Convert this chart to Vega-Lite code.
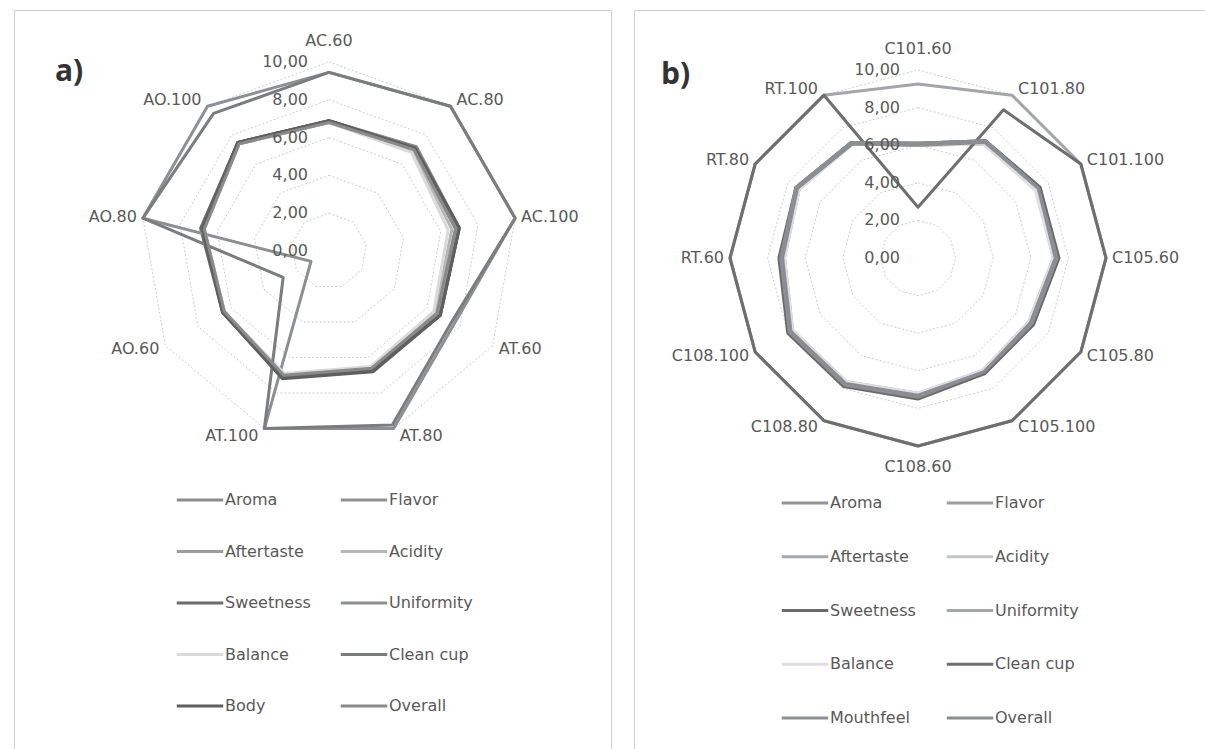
{
  "$schema": "https://vega.github.io/schema/vega-lite/v6.json",
  "background": "white",
  "padding": {"left": 13, "top": 9, "right": 0, "bottom": 0},
  "spacing": 21,
  "config": {"view": {"stroke": "#cfcfcf", "strokeWidth": 1}, "text": {"font": "DejaVu Sans"}},
  "resolve": {"scale": {"x": "independent", "y": "independent", "color": "independent"}, "legend": {"color": "independent"}},
  "datasets": {
    "catA": [
      {"c": "AC.60", "i": 0, "r": [2, 4, 6, 8, 10]}, {"c": "AC.80", "i": 1, "r": [2, 4, 6, 8, 10]}, {"c": "AC.100", "i": 2, "r": [2, 4, 6, 8, 10]},
      {"c": "AT.60", "i": 3, "r": [2, 4, 6, 8, 10]}, {"c": "AT.80", "i": 4, "r": [2, 4, 6, 8, 10]}, {"c": "AT.100", "i": 5, "r": [2, 4, 6, 8, 10]},
      {"c": "AO.60", "i": 6, "r": [2, 4, 6, 8, 10]}, {"c": "AO.80", "i": 7, "r": [2, 4, 6, 8, 10]}, {"c": "AO.100", "i": 8, "r": [2, 4, 6, 8, 10]}
    ],
    "catB": [
      {"c": "C101.60", "i": 0, "r": [2, 4, 6, 8, 10]}, {"c": "C101.80", "i": 1, "r": [2, 4, 6, 8, 10]}, {"c": "C101.100", "i": 2, "r": [2, 4, 6, 8, 10]},
      {"c": "C105.60", "i": 3, "r": [2, 4, 6, 8, 10]}, {"c": "C105.80", "i": 4, "r": [2, 4, 6, 8, 10]}, {"c": "C105.100", "i": 5, "r": [2, 4, 6, 8, 10]},
      {"c": "C108.60", "i": 6, "r": [2, 4, 6, 8, 10]}, {"c": "C108.80", "i": 7, "r": [2, 4, 6, 8, 10]}, {"c": "C108.100", "i": 8, "r": [2, 4, 6, 8, 10]},
      {"c": "RT.60", "i": 9, "r": [2, 4, 6, 8, 10]}, {"c": "RT.80", "i": 10, "r": [2, 4, 6, 8, 10]}, {"c": "RT.100", "i": 11, "r": [2, 4, 6, 8, 10]}
    ],
    "levels": [
      {"r": 0, "t": "0,00"}, {"r": 2, "t": "2,00"}, {"r": 4, "t": "4,00"}, {"r": 6, "t": "6,00"}, {"r": 8, "t": "8,00"}, {"r": 10, "t": "10,00"}
    ],
    "a": [
      {"s": "Aroma", "c": "AC.60", "i": 0, "v": 6.9}, {"s": "Aroma", "c": "AC.80", "i": 1, "v": 7.2}, {"s": "Aroma", "c": "AC.100", "i": 2, "v": 7.0}, {"s": "Aroma", "c": "AT.60", "i": 3, "v": 6.8}, {"s": "Aroma", "c": "AT.80", "i": 4, "v": 6.7}, {"s": "Aroma", "c": "AT.100", "i": 5, "v": 7.1}, {"s": "Aroma", "c": "AO.60", "i": 6, "v": 6.4}, {"s": "Aroma", "c": "AO.80", "i": 7, "v": 6.8}, {"s": "Aroma", "c": "AO.100", "i": 8, "v": 7.5},
      {"s": "Flavor", "c": "AC.60", "i": 0, "v": 6.9}, {"s": "Flavor", "c": "AC.80", "i": 1, "v": 7.1}, {"s": "Flavor", "c": "AC.100", "i": 2, "v": 6.9}, {"s": "Flavor", "c": "AT.60", "i": 3, "v": 6.7}, {"s": "Flavor", "c": "AT.80", "i": 4, "v": 6.6}, {"s": "Flavor", "c": "AT.100", "i": 5, "v": 7.1}, {"s": "Flavor", "c": "AO.60", "i": 6, "v": 6.5}, {"s": "Flavor", "c": "AO.80", "i": 7, "v": 6.8}, {"s": "Flavor", "c": "AO.100", "i": 8, "v": 7.4},
      {"s": "Aftertaste", "c": "AC.60", "i": 0, "v": 6.8}, {"s": "Aftertaste", "c": "AC.80", "i": 1, "v": 7.0}, {"s": "Aftertaste", "c": "AC.100", "i": 2, "v": 6.8}, {"s": "Aftertaste", "c": "AT.60", "i": 3, "v": 6.6}, {"s": "Aftertaste", "c": "AT.80", "i": 4, "v": 6.6}, {"s": "Aftertaste", "c": "AT.100", "i": 5, "v": 7.0}, {"s": "Aftertaste", "c": "AO.60", "i": 6, "v": 6.4}, {"s": "Aftertaste", "c": "AO.80", "i": 7, "v": 6.7}, {"s": "Aftertaste", "c": "AO.100", "i": 8, "v": 7.4},
      {"s": "Acidity", "c": "AC.60", "i": 0, "v": 6.9}, {"s": "Acidity", "c": "AC.80", "i": 1, "v": 6.9}, {"s": "Acidity", "c": "AC.100", "i": 2, "v": 6.6}, {"s": "Acidity", "c": "AT.60", "i": 3, "v": 6.5}, {"s": "Acidity", "c": "AT.80", "i": 4, "v": 6.6}, {"s": "Acidity", "c": "AT.100", "i": 5, "v": 7.0}, {"s": "Acidity", "c": "AO.60", "i": 6, "v": 6.5}, {"s": "Acidity", "c": "AO.80", "i": 7, "v": 6.8}, {"s": "Acidity", "c": "AO.100", "i": 8, "v": 7.5},
      {"s": "Sweetness", "c": "AC.60", "i": 0, "v": 6.9}, {"s": "Sweetness", "c": "AC.80", "i": 1, "v": 7.1}, {"s": "Sweetness", "c": "AC.100", "i": 2, "v": 7.0}, {"s": "Sweetness", "c": "AT.60", "i": 3, "v": 6.8}, {"s": "Sweetness", "c": "AT.80", "i": 4, "v": 6.7}, {"s": "Sweetness", "c": "AT.100", "i": 5, "v": 7.1}, {"s": "Sweetness", "c": "AO.60", "i": 6, "v": 6.5}, {"s": "Sweetness", "c": "AO.80", "i": 7, "v": 6.9}, {"s": "Sweetness", "c": "AO.100", "i": 8, "v": 7.5},
      {"s": "Uniformity", "c": "AC.60", "i": 0, "v": 9.45}, {"s": "Uniformity", "c": "AC.80", "i": 1, "v": 10}, {"s": "Uniformity", "c": "AC.100", "i": 2, "v": 10}, {"s": "Uniformity", "c": "AT.60", "i": 3, "v": 7.66}, {"s": "Uniformity", "c": "AT.80", "i": 4, "v": 10}, {"s": "Uniformity", "c": "AT.100", "i": 5, "v": 10}, {"s": "Uniformity", "c": "AO.60", "i": 6, "v": 1.1}, {"s": "Uniformity", "c": "AO.80", "i": 7, "v": 10}, {"s": "Uniformity", "c": "AO.100", "i": 8, "v": 10},
      {"s": "Balance", "c": "AC.60", "i": 0, "v": 6.8}, {"s": "Balance", "c": "AC.80", "i": 1, "v": 6.8}, {"s": "Balance", "c": "AC.100", "i": 2, "v": 6.4}, {"s": "Balance", "c": "AT.60", "i": 3, "v": 6.4}, {"s": "Balance", "c": "AT.80", "i": 4, "v": 6.5}, {"s": "Balance", "c": "AT.100", "i": 5, "v": 6.9}, {"s": "Balance", "c": "AO.60", "i": 6, "v": 6.4}, {"s": "Balance", "c": "AO.80", "i": 7, "v": 6.7}, {"s": "Balance", "c": "AO.100", "i": 8, "v": 7.4},
      {"s": "Clean cup", "c": "AC.60", "i": 0, "v": 9.45}, {"s": "Clean cup", "c": "AC.80", "i": 1, "v": 10}, {"s": "Clean cup", "c": "AC.100", "i": 2, "v": 10}, {"s": "Clean cup", "c": "AT.60", "i": 3, "v": 7.5}, {"s": "Clean cup", "c": "AT.80", "i": 4, "v": 9.8}, {"s": "Clean cup", "c": "AT.100", "i": 5, "v": 10}, {"s": "Clean cup", "c": "AO.60", "i": 6, "v": 2.8}, {"s": "Clean cup", "c": "AO.80", "i": 7, "v": 10}, {"s": "Clean cup", "c": "AO.100", "i": 8, "v": 9.5},
      {"s": "Body", "c": "AC.60", "i": 0, "v": 6.9}, {"s": "Body", "c": "AC.80", "i": 1, "v": 7.1}, {"s": "Body", "c": "AC.100", "i": 2, "v": 7.0}, {"s": "Body", "c": "AT.60", "i": 3, "v": 6.8}, {"s": "Body", "c": "AT.80", "i": 4, "v": 6.8}, {"s": "Body", "c": "AT.100", "i": 5, "v": 7.2}, {"s": "Body", "c": "AO.60", "i": 6, "v": 6.5}, {"s": "Body", "c": "AO.80", "i": 7, "v": 6.8}, {"s": "Body", "c": "AO.100", "i": 8, "v": 7.5},
      {"s": "Overall", "c": "AC.60", "i": 0, "v": 6.8}, {"s": "Overall", "c": "AC.80", "i": 1, "v": 7.0}, {"s": "Overall", "c": "AC.100", "i": 2, "v": 6.8}, {"s": "Overall", "c": "AT.60", "i": 3, "v": 6.6}, {"s": "Overall", "c": "AT.80", "i": 4, "v": 6.6}, {"s": "Overall", "c": "AT.100", "i": 5, "v": 7.0}, {"s": "Overall", "c": "AO.60", "i": 6, "v": 6.4}, {"s": "Overall", "c": "AO.80", "i": 7, "v": 6.7}, {"s": "Overall", "c": "AO.100", "i": 8, "v": 7.4}
    ],
    "b": [
      {"s": "Aroma", "c": "C101.60", "i": 0, "v": 6.1}, {"s": "Aroma", "c": "C101.80", "i": 1, "v": 7.2}, {"s": "Aroma", "c": "C101.100", "i": 2, "v": 7.5}, {"s": "Aroma", "c": "C105.60", "i": 3, "v": 7.4}, {"s": "Aroma", "c": "C105.80", "i": 4, "v": 7.0}, {"s": "Aroma", "c": "C105.100", "i": 5, "v": 7.1}, {"s": "Aroma", "c": "C108.60", "i": 6, "v": 7.4}, {"s": "Aroma", "c": "C108.80", "i": 7, "v": 7.8}, {"s": "Aroma", "c": "C108.100", "i": 8, "v": 7.9}, {"s": "Aroma", "c": "RT.60", "i": 9, "v": 7.3}, {"s": "Aroma", "c": "RT.80", "i": 10, "v": 7.5}, {"s": "Aroma", "c": "RT.100", "i": 11, "v": 7.1},
      {"s": "Flavor", "c": "C101.60", "i": 0, "v": 6.0}, {"s": "Flavor", "c": "C101.80", "i": 1, "v": 7.1}, {"s": "Flavor", "c": "C101.100", "i": 2, "v": 7.4}, {"s": "Flavor", "c": "C105.60", "i": 3, "v": 7.3}, {"s": "Flavor", "c": "C105.80", "i": 4, "v": 6.9}, {"s": "Flavor", "c": "C105.100", "i": 5, "v": 7.0}, {"s": "Flavor", "c": "C108.60", "i": 6, "v": 7.3}, {"s": "Flavor", "c": "C108.80", "i": 7, "v": 7.7}, {"s": "Flavor", "c": "C108.100", "i": 8, "v": 7.8}, {"s": "Flavor", "c": "RT.60", "i": 9, "v": 7.2}, {"s": "Flavor", "c": "RT.80", "i": 10, "v": 7.4}, {"s": "Flavor", "c": "RT.100", "i": 11, "v": 7.0},
      {"s": "Aftertaste", "c": "C101.60", "i": 0, "v": 6.0}, {"s": "Aftertaste", "c": "C101.80", "i": 1, "v": 7.0}, {"s": "Aftertaste", "c": "C101.100", "i": 2, "v": 7.3}, {"s": "Aftertaste", "c": "C105.60", "i": 3, "v": 7.2}, {"s": "Aftertaste", "c": "C105.80", "i": 4, "v": 6.8}, {"s": "Aftertaste", "c": "C105.100", "i": 5, "v": 6.9}, {"s": "Aftertaste", "c": "C108.60", "i": 6, "v": 7.2}, {"s": "Aftertaste", "c": "C108.80", "i": 7, "v": 7.6}, {"s": "Aftertaste", "c": "C108.100", "i": 8, "v": 7.7}, {"s": "Aftertaste", "c": "RT.60", "i": 9, "v": 7.1}, {"s": "Aftertaste", "c": "RT.80", "i": 10, "v": 7.3}, {"s": "Aftertaste", "c": "RT.100", "i": 11, "v": 7.0},
      {"s": "Acidity", "c": "C101.60", "i": 0, "v": 6.1}, {"s": "Acidity", "c": "C101.80", "i": 1, "v": 7.1}, {"s": "Acidity", "c": "C101.100", "i": 2, "v": 7.3}, {"s": "Acidity", "c": "C105.60", "i": 3, "v": 7.3}, {"s": "Acidity", "c": "C105.80", "i": 4, "v": 6.9}, {"s": "Acidity", "c": "C105.100", "i": 5, "v": 7.0}, {"s": "Acidity", "c": "C108.60", "i": 6, "v": 7.3}, {"s": "Acidity", "c": "C108.80", "i": 7, "v": 7.7}, {"s": "Acidity", "c": "C108.100", "i": 8, "v": 7.8}, {"s": "Acidity", "c": "RT.60", "i": 9, "v": 7.3}, {"s": "Acidity", "c": "RT.80", "i": 10, "v": 7.4}, {"s": "Acidity", "c": "RT.100", "i": 11, "v": 7.1},
      {"s": "Sweetness", "c": "C101.60", "i": 0, "v": 6.1}, {"s": "Sweetness", "c": "C101.80", "i": 1, "v": 7.2}, {"s": "Sweetness", "c": "C101.100", "i": 2, "v": 7.5}, {"s": "Sweetness", "c": "C105.60", "i": 3, "v": 7.5}, {"s": "Sweetness", "c": "C105.80", "i": 4, "v": 7.1}, {"s": "Sweetness", "c": "C105.100", "i": 5, "v": 7.1}, {"s": "Sweetness", "c": "C108.60", "i": 6, "v": 7.5}, {"s": "Sweetness", "c": "C108.80", "i": 7, "v": 7.9}, {"s": "Sweetness", "c": "C108.100", "i": 8, "v": 8.0}, {"s": "Sweetness", "c": "RT.60", "i": 9, "v": 7.4}, {"s": "Sweetness", "c": "RT.80", "i": 10, "v": 7.5}, {"s": "Sweetness", "c": "RT.100", "i": 11, "v": 7.1},
      {"s": "Uniformity", "c": "C101.60", "i": 0, "v": 9.26}, {"s": "Uniformity", "c": "C101.80", "i": 1, "v": 10}, {"s": "Uniformity", "c": "C101.100", "i": 2, "v": 10}, {"s": "Uniformity", "c": "C105.60", "i": 3, "v": 10}, {"s": "Uniformity", "c": "C105.80", "i": 4, "v": 10}, {"s": "Uniformity", "c": "C105.100", "i": 5, "v": 10}, {"s": "Uniformity", "c": "C108.60", "i": 6, "v": 10}, {"s": "Uniformity", "c": "C108.80", "i": 7, "v": 10}, {"s": "Uniformity", "c": "C108.100", "i": 8, "v": 10}, {"s": "Uniformity", "c": "RT.60", "i": 9, "v": 10}, {"s": "Uniformity", "c": "RT.80", "i": 10, "v": 10}, {"s": "Uniformity", "c": "RT.100", "i": 11, "v": 10},
      {"s": "Balance", "c": "C101.60", "i": 0, "v": 6.0}, {"s": "Balance", "c": "C101.80", "i": 1, "v": 7.0}, {"s": "Balance", "c": "C101.100", "i": 2, "v": 7.2}, {"s": "Balance", "c": "C105.60", "i": 3, "v": 7.2}, {"s": "Balance", "c": "C105.80", "i": 4, "v": 6.8}, {"s": "Balance", "c": "C105.100", "i": 5, "v": 6.9}, {"s": "Balance", "c": "C108.60", "i": 6, "v": 7.2}, {"s": "Balance", "c": "C108.80", "i": 7, "v": 7.6}, {"s": "Balance", "c": "C108.100", "i": 8, "v": 7.7}, {"s": "Balance", "c": "RT.60", "i": 9, "v": 7.1}, {"s": "Balance", "c": "RT.80", "i": 10, "v": 7.3}, {"s": "Balance", "c": "RT.100", "i": 11, "v": 7.0},
      {"s": "Clean cup", "c": "C101.60", "i": 0, "v": 2.7}, {"s": "Clean cup", "c": "C101.80", "i": 1, "v": 9.1}, {"s": "Clean cup", "c": "C101.100", "i": 2, "v": 10}, {"s": "Clean cup", "c": "C105.60", "i": 3, "v": 10}, {"s": "Clean cup", "c": "C105.80", "i": 4, "v": 10}, {"s": "Clean cup", "c": "C105.100", "i": 5, "v": 10}, {"s": "Clean cup", "c": "C108.60", "i": 6, "v": 10}, {"s": "Clean cup", "c": "C108.80", "i": 7, "v": 10}, {"s": "Clean cup", "c": "C108.100", "i": 8, "v": 10}, {"s": "Clean cup", "c": "RT.60", "i": 9, "v": 10}, {"s": "Clean cup", "c": "RT.80", "i": 10, "v": 10}, {"s": "Clean cup", "c": "RT.100", "i": 11, "v": 10},
      {"s": "Mouthfeel", "c": "C101.60", "i": 0, "v": 6.1}, {"s": "Mouthfeel", "c": "C101.80", "i": 1, "v": 7.2}, {"s": "Mouthfeel", "c": "C101.100", "i": 2, "v": 7.4}, {"s": "Mouthfeel", "c": "C105.60", "i": 3, "v": 7.4}, {"s": "Mouthfeel", "c": "C105.80", "i": 4, "v": 7.0}, {"s": "Mouthfeel", "c": "C105.100", "i": 5, "v": 7.0}, {"s": "Mouthfeel", "c": "C108.60", "i": 6, "v": 7.4}, {"s": "Mouthfeel", "c": "C108.80", "i": 7, "v": 7.8}, {"s": "Mouthfeel", "c": "C108.100", "i": 8, "v": 7.9}, {"s": "Mouthfeel", "c": "RT.60", "i": 9, "v": 7.3}, {"s": "Mouthfeel", "c": "RT.80", "i": 10, "v": 7.5}, {"s": "Mouthfeel", "c": "RT.100", "i": 11, "v": 7.1},
      {"s": "Overall", "c": "C101.60", "i": 0, "v": 6.0}, {"s": "Overall", "c": "C101.80", "i": 1, "v": 7.1}, {"s": "Overall", "c": "C101.100", "i": 2, "v": 7.4}, {"s": "Overall", "c": "C105.60", "i": 3, "v": 7.3}, {"s": "Overall", "c": "C105.80", "i": 4, "v": 6.9}, {"s": "Overall", "c": "C105.100", "i": 5, "v": 7.0}, {"s": "Overall", "c": "C108.60", "i": 6, "v": 7.3}, {"s": "Overall", "c": "C108.80", "i": 7, "v": 7.7}, {"s": "Overall", "c": "C108.100", "i": 8, "v": 7.8}, {"s": "Overall", "c": "RT.60", "i": 9, "v": 7.2}, {"s": "Overall", "c": "RT.80", "i": 10, "v": 7.4}, {"s": "Overall", "c": "RT.100", "i": 11, "v": 7.0}
    ]
  },
  "hconcat": [
    {
      "width": 597,
      "height": 742,
      "title": {"text": "a)", "anchor": "start", "orient": "top", "offset": -101, "dx": 41, "baseline": "alphabetic", "fontSize": 30, "fontWeight": "bold", "font": "Open Sans", "color": "#333333"},
      "encoding": {
        "x": {"field": "px", "type": "quantitative", "scale": {"domain": [-16.667, 14.921], "nice": false, "zero": false}, "axis": null},
        "y": {"field": "py", "type": "quantitative", "scale": {"domain": [-26.508, 12.751], "nice": false, "zero": false}, "axis": null}
      },
      "layer": [
        {
          "data": {"name": "catA"},
          "transform": [{"flatten": ["r"]}, {"calculate": "datum.i*2*PI/9", "as": "t"}, {"calculate": "datum.r*sin(datum.t)", "as": "px"}, {"calculate": "datum.r*cos(datum.t)", "as": "py"}],
          "mark": {"type": "line", "interpolate": "linear-closed", "stroke": "#cdcdcd", "strokeWidth": 1, "strokeDash": [2, 2]},
          "encoding": {"detail": {"field": "r"}, "order": {"field": "i", "type": "quantitative"}}
        },
        {
          "data": {"name": "a"},
          "transform": [{"calculate": "datum.i*2*PI/9", "as": "t"}, {"calculate": "datum.v*sin(datum.t)", "as": "px"}, {"calculate": "datum.v*cos(datum.t)", "as": "py"}],
          "mark": {"type": "line", "interpolate": "linear-closed", "strokeWidth": 3, "strokeJoin": "round"},
          "encoding": {
            "color": {"field": "s", "type": "nominal",
              "scale": {"domain": ["Aroma", "Flavor", "Aftertaste", "Acidity", "Sweetness", "Uniformity", "Balance", "Clean cup", "Body", "Overall"],
                        "range": ["#8a8d90", "#8e9295", "#9a9c9e", "#b4b6b8", "#6b6b6b", "#8c9094", "#dadada", "#7a7c7e", "#5f5f5f", "#8a8a8a"]},
              "legend": {"title": null, "orient": "none", "direction": "horizontal", "legendX": 161, "legendY": 465, "columns": 2, "symbolType": "stroke", "symbolSize": 2160, "symbolStrokeWidth": 3, "labelFont": "DejaVu Sans", "labelFontSize": 16, "labelColor": "#595959", "rowPadding": 18.5, "columnPadding": 23, "labelOffset": 0}},
            "order": {"field": "i", "type": "quantitative"}
          }
        },
        {
          "data": {"name": "levels"},
          "transform": [{"calculate": "0", "as": "px"}, {"calculate": "datum.r", "as": "py"}],
          "mark": {"type": "text", "align": "right", "baseline": "middle", "dx": -21, "fontSize": 16, "color": "#595959"},
          "encoding": {"text": {"field": "t"}}
        },
        {
          "data": {"name": "catA"},
          "transform": [{"calculate": "datum.i*2*PI/9", "as": "t"}, {"filter": "sin(datum.t) > 0.1"}, {"calculate": "10*sin(datum.t)", "as": "px"}, {"calculate": "10.4*cos(datum.t)", "as": "py"}],
          "mark": {"type": "text", "align": "left", "baseline": "middle", "dx": 6, "fontSize": 16, "color": "#595959"},
          "encoding": {"text": {"field": "c"}}
        },
        {
          "data": {"name": "catA"},
          "transform": [{"calculate": "datum.i*2*PI/9", "as": "t"}, {"filter": "sin(datum.t) < -0.1"}, {"calculate": "10*sin(datum.t)", "as": "px"}, {"calculate": "10.4*cos(datum.t)", "as": "py"}],
          "mark": {"type": "text", "align": "right", "baseline": "middle", "dx": -6, "fontSize": 16, "color": "#595959"},
          "encoding": {"text": {"field": "c"}}
        },
        {
          "data": {"name": "catA"},
          "transform": [{"calculate": "datum.i*2*PI/9", "as": "t"}, {"filter": "abs(sin(datum.t)) <= 0.1"}, {"calculate": "0", "as": "px"}, {"calculate": "11.1*cos(datum.t)", "as": "py"}],
          "mark": {"type": "text", "align": "center", "baseline": "middle", "fontSize": 16, "color": "#595959"},
          "encoding": {"text": {"field": "c"}}
        }
      ]
    },
    {
      "width": 576,
      "height": 742,
      "title": {"text": "b)", "anchor": "start", "orient": "top", "offset": -104, "dx": 27, "baseline": "alphabetic", "fontSize": 30, "fontWeight": "bold", "font": "Open Sans", "color": "#333333"},
      "encoding": {
        "x": {"field": "px", "type": "quantitative", "scale": {"domain": [-15.106, 15.532], "nice": false, "zero": false}, "axis": null},
        "y": {"field": "py", "type": "quantitative", "scale": {"domain": [-26.277, 13.191], "nice": false, "zero": false}, "axis": null}
      },
      "layer": [
        {
          "data": {"name": "catB"},
          "transform": [{"flatten": ["r"]}, {"calculate": "datum.i*2*PI/12", "as": "t"}, {"calculate": "datum.r*sin(datum.t)", "as": "px"}, {"calculate": "datum.r*cos(datum.t)", "as": "py"}],
          "mark": {"type": "line", "interpolate": "linear-closed", "stroke": "#cdcdcd", "strokeWidth": 1, "strokeDash": [2, 2]},
          "encoding": {"detail": {"field": "r"}, "order": {"field": "i", "type": "quantitative"}}
        },
        {
          "data": {"name": "b"},
          "transform": [{"calculate": "datum.i*2*PI/12", "as": "t"}, {"calculate": "datum.v*sin(datum.t)", "as": "px"}, {"calculate": "datum.v*cos(datum.t)", "as": "py"}],
          "mark": {"type": "line", "interpolate": "linear-closed", "strokeWidth": 3, "strokeJoin": "round"},
          "encoding": {
            "color": {"field": "s", "type": "nominal",
              "scale": {"domain": ["Aroma", "Flavor", "Aftertaste", "Acidity", "Sweetness", "Uniformity", "Balance", "Clean cup", "Mouthfeel", "Overall"],
                        "range": ["#8f9499", "#9a9ea2", "#a3a8ac", "#c4c7ca", "#6a6a6a", "#a2a6aa", "#e0dde3", "#6e6e6e", "#8c9094", "#8a8e92"]},
              "legend": {"title": null, "orient": "none", "direction": "horizontal", "legendX": 146, "legendY": 468, "columns": 2, "symbolType": "stroke", "symbolSize": 2160, "symbolStrokeWidth": 3, "labelFont": "DejaVu Sans", "labelFontSize": 16, "labelColor": "#595959", "rowPadding": 20.75, "columnPadding": 24, "labelOffset": 0}},
            "order": {"field": "i", "type": "quantitative"}
          }
        },
        {
          "data": {"name": "levels"},
          "transform": [{"calculate": "0", "as": "px"}, {"calculate": "datum.r", "as": "py"}],
          "mark": {"type": "text", "align": "right", "baseline": "middle", "dx": -18, "fontSize": 16, "color": "#595959"},
          "encoding": {"text": {"field": "t"}}
        },
        {
          "data": {"name": "catB"},
          "transform": [{"calculate": "datum.i*2*PI/12", "as": "t"}, {"filter": "sin(datum.t) > 0.1"}, {"calculate": "10*sin(datum.t)", "as": "px"}, {"calculate": "10.4*cos(datum.t)", "as": "py"}],
          "mark": {"type": "text", "align": "left", "baseline": "middle", "dx": 6, "fontSize": 16, "color": "#595959"},
          "encoding": {"text": {"field": "c"}}
        },
        {
          "data": {"name": "catB"},
          "transform": [{"calculate": "datum.i*2*PI/12", "as": "t"}, {"filter": "sin(datum.t) < -0.1"}, {"calculate": "10*sin(datum.t)", "as": "px"}, {"calculate": "10.4*cos(datum.t)", "as": "py"}],
          "mark": {"type": "text", "align": "right", "baseline": "middle", "dx": -6, "fontSize": 16, "color": "#595959"},
          "encoding": {"text": {"field": "c"}}
        },
        {
          "data": {"name": "catB"},
          "transform": [{"calculate": "datum.i*2*PI/12", "as": "t"}, {"filter": "abs(sin(datum.t)) <= 0.1"}, {"calculate": "0", "as": "px"}, {"calculate": "11.1*cos(datum.t)", "as": "py"}],
          "mark": {"type": "text", "align": "center", "baseline": "middle", "fontSize": 16, "color": "#595959"},
          "encoding": {"text": {"field": "c"}}
        }
      ]
    }
  ]
}
